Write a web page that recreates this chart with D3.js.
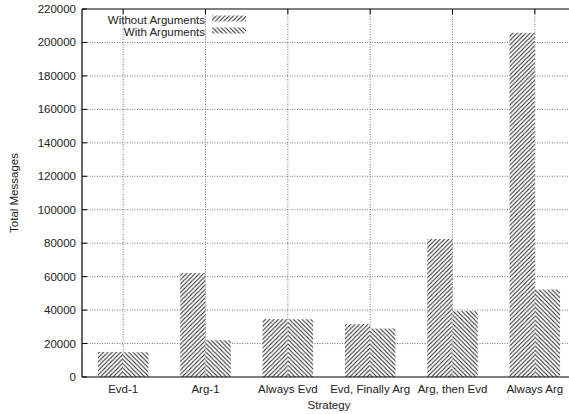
<!DOCTYPE html>
<html><head><meta charset="utf-8">
<script src="https://cdn.jsdelivr.net/npm/d3@7"></script>
<style>body{margin:0;background:#fff}svg{display:block}text{font-family:"Liberation Sans",Arial,sans-serif;fill:#222}</style>
</head><body>
<script>
const categories = ["Evd-1","Arg-1","Always Evd","Evd, Finally Arg","Arg, then Evd","Always Arg"];
const withoutArgs = [15000, 62200, 34600, 31600, 82500, 205800];
const withArgs = [14800, 22000, 34500, 29000, 39400, 52300];
const yTicks = [0,20000,40000,60000,80000,100000,120000,140000,160000,180000,200000,220000];
const seriesNames = ["Without Arguments","With Arguments"];

const W=569,H=414;
const svg=d3.select("body").append("svg").attr("width",W).attr("height",H);
const pLeft=82,pTop=9,pBottom=377,pRight=576;
const x=d3.scaleLinear().domain([-0.5,5.5]).range([pLeft,pRight]);
const y=d3.scaleLinear().domain([0,220000]).range([pBottom,pTop]);
const bw=0.307;
const fs=11.5;

const defs=svg.append("defs");
function pat(id,dir){
  const s=4.3;
  const p=defs.append("pattern").attr("id",id).attr("patternUnits","userSpaceOnUse").attr("width",s).attr("height",s);
  p.append("rect").attr("width",s).attr("height",s).attr("fill","#fff");
  const lines = dir>0 ? [[-s,s,s,-s],[0,s,s,0],[0,2*s,2*s,0]] : [[0,0,s,s],[-s,0,s,2*s],[0,-s,2*s,s]];
  lines.forEach(l=>p.append("line").attr("x1",l[0]).attr("y1",l[1]).attr("x2",l[2]).attr("y2",l[3]).attr("stroke","#222").attr("stroke-width",1.0));
}
pat("pw",1); pat("pa",-1);

// grid
const g=svg.append("g");
yTicks.forEach(t=>{ if(t>0&&t<220000) g.append("line").attr("x1",pLeft).attr("x2",pRight).attr("y1",y(t)).attr("y2",y(t)).attr("stroke","#555").attr("stroke-width",0.8).attr("stroke-dasharray","1,1.5");});
categories.forEach((c,i)=>g.append("line").attr("x1",x(i)).attr("x2",x(i)).attr("y1",pTop).attr("y2",pBottom).attr("stroke","#555").attr("stroke-width",0.8).attr("stroke-dasharray","1,1.5"));

// bars
const bars=svg.append("g");
categories.forEach((c,i)=>{
  bars.append("rect").attr("x",x(i-bw)).attr("width",x(bw)-x(0)).attr("y",y(withoutArgs[i])).attr("height",y(0)-y(withoutArgs[i])).attr("fill","url(#pw)");
  bars.append("rect").attr("x",x(i)).attr("width",x(bw)-x(0)).attr("y",y(withArgs[i])).attr("height",y(0)-y(withArgs[i])).attr("fill","url(#pa)");
});

// border/axes
svg.append("line").attr("x1",pLeft).attr("x2",pRight).attr("y1",pBottom).attr("y2",pBottom).attr("stroke","#000").attr("stroke-width",1.2);
svg.append("line").attr("x1",pLeft).attr("x2",pRight).attr("y1",pTop).attr("y2",pTop).attr("stroke","#000").attr("stroke-width",1.2);
svg.append("line").attr("x1",pLeft).attr("x2",pLeft).attr("y1",pTop).attr("y2",pBottom).attr("stroke","#000").attr("stroke-width",1.2);
// ticks
yTicks.forEach(t=>svg.append("line").attr("x1",pLeft).attr("x2",pLeft+5).attr("y1",y(t)).attr("y2",y(t)).attr("stroke","#000"));
categories.forEach((c,i)=>{
  svg.append("line").attr("x1",x(i)).attr("x2",x(i)).attr("y1",pTop).attr("y2",pTop+5).attr("stroke","#000");
});

// labels
yTicks.forEach(t=>svg.append("text").attr("x",76).attr("y",y(t)+4).attr("text-anchor","end").attr("font-size",fs).text(t));
categories.forEach((c,i)=>svg.append("text").attr("x",x(i)).attr("y",393).attr("text-anchor","middle").attr("font-size",fs).text(c));
svg.append("text").attr("x",x(2.5)).attr("y",409).attr("text-anchor","middle").attr("font-size",fs).text("Strategy");
svg.append("text").attr("transform","translate(18,"+((pTop+pBottom)/2)+") rotate(-90)").attr("text-anchor","middle").attr("font-size",fs).text("Total Messages");

// legend
seriesNames.forEach((n,i)=>{
  const ly=22.5+i*12;
  svg.append("text").attr("x",205).attr("y",ly+1).attr("text-anchor","end").attr("font-size",fs).text(n);
  svg.append("rect").attr("x",212).attr("y",ly-7).attr("width",34).attr("height",6).attr("fill",i==0?"url(#pw)":"url(#pa)");
});
</script>
</body></html>
